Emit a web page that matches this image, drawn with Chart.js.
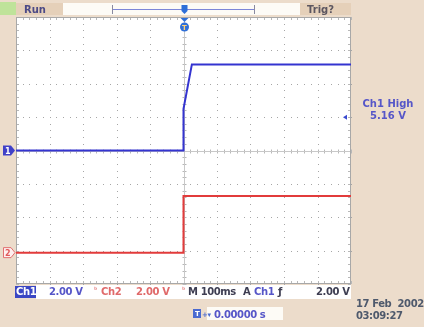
<!DOCTYPE html>
<html>
<head>
<meta charset="utf-8">
<script src="https://cdn.jsdelivr.net/npm/chart.js@4/dist/chart.umd.min.js"></script>
<style>
  html, body { margin: 0; padding: 0; background: #ecdccb; }
  canvas { display: block; }
</style>
</head>
<body>
<canvas id="scope" width="424" height="327"></canvas>
<script>
// Acquisition record: time in ms relative to the trigger, amplitude in volts.
const ch1TimeMs = [-500, 0, 0, 25, 500];
const ch1Volts  = [0, 0, 2.5, 5.16, 5.16];
const ch2TimeMs = [-500, 0, 0, 500];
const ch2Volts  = [0, 0, 3.4, 3.4];

// Vertical / horizontal settings
const voltsPerDiv = [2.0, 2.0];
const positionDiv = [0, -3.06];
const timePerDivMs = 100;
const horizontalDivs = 10;
const verticalDivs = 8;
const triggerLevelV = 2.0;
const triggerTimeMs = 0;

// Readouts
const statusLabel = 'Run';
const triggerStatus = 'Trig?';
const measurementLines = ['Ch1 High', '5.16 V'];
const ch1ScaleLabel = '2.00 V';
const ch2ScaleLabel = '2.00 V';
const timebaseLabel = 'M 100ms';
const triggerSourceLabel = 'Ch1';
const triggerLevelLabel = '2.00 V';
const delayLabel = '0.00000 s';
const dateLines = ['17 Feb  2002', '03:09:27'];

const BG = '#ecdccb';
const BOX = '#e5d0b9';
const BLUE = '#3434d0';
const RED = '#e23b3b';
const TXT_BLUE = '#5656c8';
const TXT_RED = '#e06a6a';
const TXT_DARK = '#3e3e52';
const FONT = 'bold 10px "DejaVu Sans", sans-serif';

function toDivs(volts, ch) {
  return volts.map(v => v / voltsPerDiv[ch] + positionDiv[ch]);
}
function points(times, divs) {
  return times.map((t, i) => ({ x: t, y: divs[i] }));
}

const halfSpan = timePerDivMs * horizontalDivs / 2;

const scopeFrame = {
  id: 'scopeFrame',
  beforeDraw(chart) {
    const { ctx, chartArea: a } = chart;
    ctx.save();
    ctx.fillStyle = BG;
    ctx.fillRect(0, 0, chart.width, chart.height);
    // graticule background
    ctx.fillStyle = '#ffffff';
    ctx.fillRect(a.left, a.top, a.right - a.left, a.bottom - a.top);

    // top status bar
    ctx.fillStyle = '#bfe39a';
    ctx.fillRect(0, 2, 16, 13);
    ctx.fillStyle = BOX;
    ctx.fillRect(16, 3, 47, 12);
    ctx.fillStyle = '#fdfbf6';
    ctx.fillRect(63, 3, 237, 12);
    ctx.fillStyle = BOX;
    ctx.fillRect(300, 3, 51, 12);
    ctx.font = FONT;
    ctx.textBaseline = 'alphabetic';
    ctx.fillStyle = '#4c4a86';
    ctx.fillText(statusLabel, 24, 13);
    ctx.fillStyle = '#5c5660';
    ctx.fillText(triggerStatus, 307, 13);

    // record window bracket
    ctx.strokeStyle = '#7d86d8';
    ctx.lineWidth = 1;
    ctx.beginPath();
    ctx.moveTo(112, 9.5); ctx.lineTo(254, 9.5);
    ctx.stroke();
    ctx.strokeStyle = '#8a8aa0';
    ctx.beginPath();
    ctx.moveTo(112.5, 5); ctx.lineTo(112.5, 14);
    ctx.moveTo(254.5, 5); ctx.lineTo(254.5, 14);
    ctx.stroke();

    // bottom readout strip
    ctx.fillStyle = '#ffffff';
    ctx.fillRect(36, a.bottom + 1, a.right - 36, 14);
    ctx.fillStyle = '#fdfbf6';
    ctx.fillRect(207, 307, 76, 13);
    ctx.restore();
  },
  beforeDatasetsDraw(chart) {
    const { ctx, chartArea: a, scales: { x, y } } = chart;
    ctx.save();
    const minor = 5;
    // dotted major lines
    ctx.fillStyle = '#a6a6a6';
    for (let i = 1; i < horizontalDivs; i++) {
      const px = Math.round(x.getPixelForValue(-halfSpan + i * timePerDivMs));
      for (let j = 0; j <= verticalDivs * minor; j++) {
        const py = Math.round(y.getPixelForValue(-verticalDivs / 2 + j / minor));
        ctx.fillRect(px, py, 1, 1);
      }
    }
    for (let j = 1; j < verticalDivs; j++) {
      const py = Math.round(y.getPixelForValue(-verticalDivs / 2 + j));
      for (let i = 0; i <= horizontalDivs * minor; i++) {
        const px = Math.round(x.getPixelForValue(-halfSpan + i * timePerDivMs / minor));
        ctx.fillRect(px, py, 1, 1);
      }
    }
    // centre axes and frame with minor ticks
    ctx.strokeStyle = '#b8b8b8';
    ctx.lineWidth = 1;
    const cx = Math.round(x.getPixelForValue(0)) + 0.5;
    const cy = Math.round(y.getPixelForValue(0)) + 0.5;
    ctx.beginPath();
    for (let i = 0; i <= horizontalDivs * minor; i++) {
      const px = Math.round(x.getPixelForValue(-halfSpan + i * timePerDivMs / minor)) + 0.5;
      ctx.moveTo(px, cy - 2); ctx.lineTo(px, cy + 2);
      ctx.moveTo(px, a.top); ctx.lineTo(px, a.top + 3);
      ctx.moveTo(px, a.bottom); ctx.lineTo(px, a.bottom - 3);
    }
    for (let j = 0; j <= verticalDivs * minor; j++) {
      const py = Math.round(y.getPixelForValue(-verticalDivs / 2 + j / minor)) + 0.5;
      ctx.moveTo(cx - 2, py); ctx.lineTo(cx + 2, py);
      ctx.moveTo(a.left, py); ctx.lineTo(a.left + 3, py);
      ctx.moveTo(a.right, py); ctx.lineTo(a.right - 3, py);
    }
    ctx.stroke();
    ctx.strokeStyle = '#c8c8c8';
    ctx.beginPath();
    ctx.moveTo(cx, a.top); ctx.lineTo(cx, a.bottom);
    ctx.moveTo(a.left, cy); ctx.lineTo(a.right, cy);
    ctx.stroke();
    ctx.strokeStyle = '#a8a8a8';
    ctx.strokeRect(a.left + 0.5, a.top + 0.5, a.right - a.left - 1, a.bottom - a.top - 1);
    ctx.restore();
  },
  afterDraw(chart) {
    const { ctx, chartArea: a, scales: { x, y } } = chart;
    ctx.save();
    ctx.font = FONT;
    ctx.textBaseline = 'alphabetic';

    // channel ground markers
    const g1 = y.getPixelForValue(positionDiv[0]);
    const g2 = y.getPixelForValue(positionDiv[1]);
    ctx.beginPath();
    ctx.moveTo(3, g1 - 5); ctx.lineTo(11, g1 - 5); ctx.lineTo(15, g1); ctx.lineTo(11, g1 + 5); ctx.lineTo(3, g1 + 5); ctx.closePath();
    ctx.fillStyle = '#4040c8'; ctx.fill();
    ctx.fillStyle = '#ffffff';
    ctx.font = 'bold 8px "DejaVu Sans", sans-serif';
    ctx.fillText('1', 5, g1 + 3);
    ctx.beginPath();
    ctx.moveTo(3.5, g2 - 5); ctx.lineTo(11, g2 - 5); ctx.lineTo(15, g2); ctx.lineTo(11, g2 + 5); ctx.lineTo(3.5, g2 + 5); ctx.closePath();
    ctx.fillStyle = '#fff0f0'; ctx.fill();
    ctx.strokeStyle = '#e07070'; ctx.lineWidth = 1; ctx.stroke();
    ctx.fillStyle = '#e05a5a';
    ctx.fillText('2', 5, g2 + 3);

    // trigger position markers
    const tx = Math.round(x.getPixelForValue(triggerTimeMs)) + 0.5;
    ctx.fillStyle = '#2f6fd8';
    ctx.beginPath();
    ctx.moveTo(tx - 3, 5); ctx.lineTo(tx + 3, 5); ctx.lineTo(tx + 3, 11); ctx.lineTo(tx, 14); ctx.lineTo(tx - 3, 11); ctx.closePath();
    ctx.fill();
    ctx.beginPath();
    ctx.moveTo(tx - 4, a.top + 1); ctx.lineTo(tx + 4, a.top + 1); ctx.lineTo(tx, a.top + 5); ctx.closePath();
    ctx.fill();
    ctx.beginPath();
    ctx.arc(tx, a.top + 10, 4.5, 0, Math.PI * 2);
    ctx.fill();
    ctx.fillStyle = '#ffd27a';
    ctx.font = 'bold 7px "DejaVu Sans", sans-serif';
    ctx.textAlign = 'center';
    ctx.fillText('T', tx, a.top + 13);
    ctx.textAlign = 'left';

    // trigger level marker
    const ty = y.getPixelForValue(triggerLevelV / voltsPerDiv[0] + positionDiv[0]);
    ctx.fillStyle = '#3a4ad0';
    ctx.beginPath();
    ctx.moveTo(a.right - 8, ty); ctx.lineTo(a.right - 4, ty - 2.5); ctx.lineTo(a.right - 4, ty + 2.5); ctx.closePath();
    ctx.fill();

    // measurement readout
    ctx.font = FONT;
    ctx.fillStyle = TXT_BLUE;
    ctx.textAlign = 'center';
    ctx.fillText(measurementLines[0], 388, 107);
    ctx.fillText(measurementLines[1], 388, 119);
    ctx.textAlign = 'left';

    // bottom readouts
    const by = a.bottom + 11;
    ctx.letterSpacing = '-0.4px';
    ctx.fillStyle = '#3a46c4';
    ctx.fillRect(15, a.bottom + 2, 21, 12);
    ctx.fillStyle = '#ffffff';
    ctx.fillText('Ch1', 16, by);
    ctx.fillStyle = TXT_BLUE;
    ctx.fillText(ch1ScaleLabel, 49, by);
    ctx.font = 'bold 7px "DejaVu Sans", sans-serif';
    ctx.fillStyle = '#e89090';
    ctx.fillText('ᵇ', 94, by - 3);
    ctx.fillText('ᵇ', 182, by - 3);
    ctx.font = FONT;
    ctx.fillStyle = TXT_RED;
    ctx.fillText('Ch2', 101, by);
    ctx.fillText(ch2ScaleLabel, 136, by);
    ctx.fillStyle = TXT_DARK;
    ctx.fillText(timebaseLabel, 188, by);
    ctx.fillText('A', 243, by);
    ctx.fillStyle = TXT_BLUE;
    ctx.fillText(triggerSourceLabel, 254, by);
    ctx.fillStyle = TXT_DARK;
    ctx.fillText('ƒ', 278, by);
    ctx.fillText(triggerLevelLabel, 316, by);

    // horizontal delay readout
    ctx.fillStyle = '#4a6ad0';
    ctx.fillRect(193, 309, 8, 9);
    ctx.fillStyle = '#ffffff';
    ctx.font = 'bold 7px "DejaVu Sans", sans-serif';
    ctx.fillText('T', 195, 316);
    ctx.fillStyle = '#4a6ad0';
    ctx.fillText('+▾', 202, 317);
    ctx.font = FONT;
    ctx.fillStyle = TXT_BLUE;
    ctx.fillText(delayLabel, 214, 318);

    // date and time
    ctx.fillStyle = '#4e596c';
    ctx.fillText(dateLines[0], 356, 307);
    ctx.fillText(dateLines[1], 356, 319);
    ctx.restore();
  }
};

new Chart(document.getElementById('scope'), {
  type: 'scatter',
  data: {
    datasets: [
      {
        label: 'Ch1',
        data: points(ch1TimeMs, toDivs(ch1Volts, 0)),
        showLine: true,
        borderColor: BLUE,
        borderWidth: 2,
        pointRadius: 0,
        tension: 0
      },
      {
        label: 'Ch2',
        data: points(ch2TimeMs, toDivs(ch2Volts, 1)),
        showLine: true,
        borderColor: RED,
        borderWidth: 2,
        pointRadius: 0,
        tension: 0
      }
    ]
  },
  options: {
    responsive: false,
    animation: false,
    layout: { padding: { left: 16, right: 73, top: 17, bottom: 43 } },
    plugins: { legend: { display: false }, tooltip: { enabled: false } },
    scales: {
      x: {
        type: 'linear',
        min: -halfSpan, max: halfSpan,
        grid: { display: false, drawTicks: false },
        border: { display: false },
        ticks: { display: false }
      },
      y: {
        type: 'linear',
        min: -verticalDivs / 2, max: verticalDivs / 2,
        grid: { display: false, drawTicks: false },
        border: { display: false },
        ticks: { display: false }
      }
    }
  },
  plugins: [scopeFrame]
});
</script>
</body>
</html>
